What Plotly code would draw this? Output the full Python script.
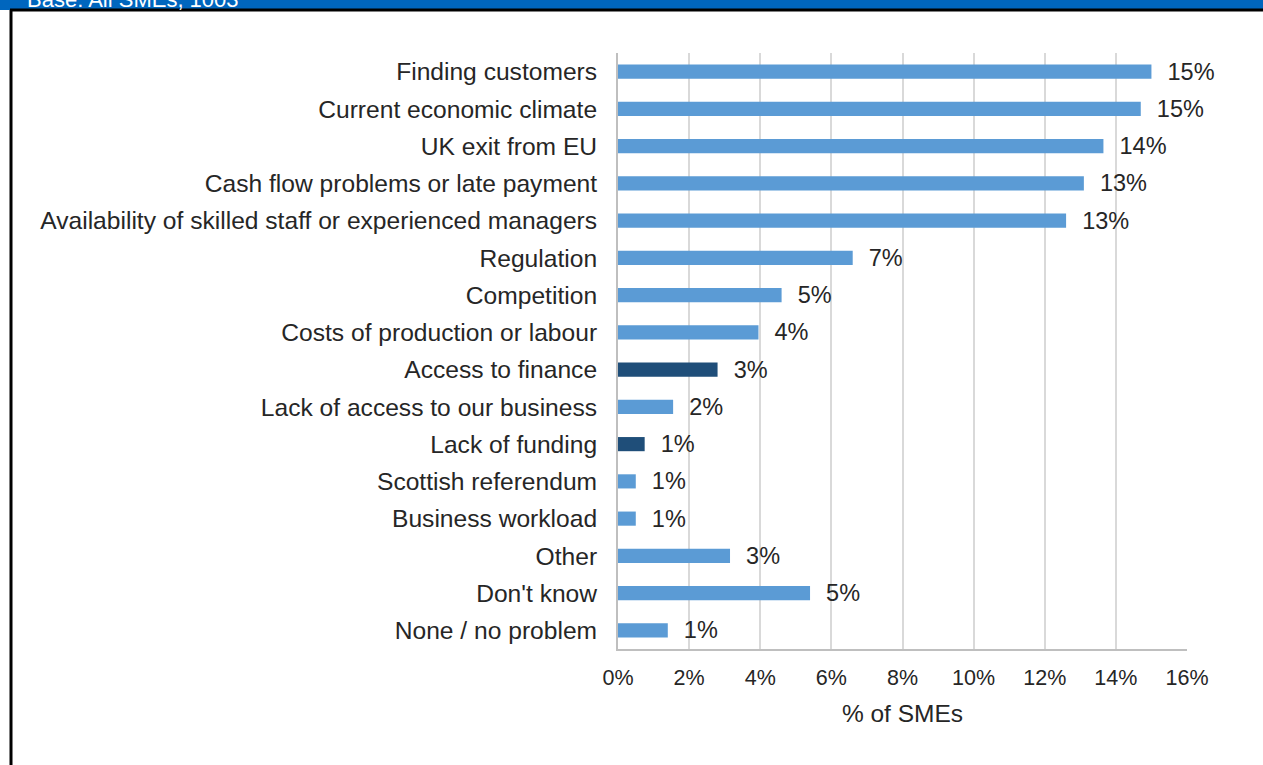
import plotly.graph_objects as go

categories = ["Finding customers", "Current economic climate", "UK exit from EU",
              "Cash flow problems or late payment",
              "Availability of skilled staff or experienced managers",
              "Regulation", "Competition", "Costs of production or labour",
              "Access to finance", "Lack of access to our business", "Lack of funding",
              "Scottish referendum", "Business workload", "Other", "Don't know",
              "None / no problem"]
values = [15.0, 14.7, 13.65, 13.1, 12.6, 6.6, 4.6, 3.95, 2.8, 1.55, 0.75, 0.5, 0.5, 3.15, 5.4, 1.4]
labels = ["15%", "15%", "14%", "13%", "13%", "7%", "5%", "4%", "3%", "2%", "1%", "1%", "1%", "3%", "5%", "1%"]
highlight = ["Access to finance", "Lack of funding"]
x_ticks = [0, 2, 4, 6, 8, 10, 12, 14, 16]
x_tick_labels = ["0%", "2%", "4%", "6%", "8%", "10%", "12%", "14%", "16%"]

colors = ["#1F4E79" if c in highlight else "#5B9BD5" for c in categories]

W, H = 1263, 765
L, R, T, B = 618, 1187, 53, 649
FONT = "Liberation Sans, Arial, sans-serif"

fig = go.Figure(go.Bar(
    y=categories, x=values, orientation="h",
    marker=dict(color=colors, line=dict(width=0)),
    width=0.38,
    text=["  " + t for t in labels], textposition="outside",
    constraintext="none",
    textfont=dict(size=23.5, color="#262626", family=FONT),
    cliponaxis=False,
))

def px2x(p):
    return (p - L) / (R - L)

def py2y(p):
    return 1 - (p - T) / (B - T)

fig.update_layout(
    width=W, height=H,
    margin=dict(l=L, r=W - R, t=T, b=H - B, pad=0),
    plot_bgcolor="white", paper_bgcolor="white",
    font=dict(family=FONT, size=23, color="#262626"),
    showlegend=False,
    xaxis=dict(range=[0, 16], tickvals=x_ticks, ticktext=x_tick_labels,
               showgrid=True, gridcolor="#D9D9D9", gridwidth=2,
               showline=True, linecolor="#BFBFBF", linewidth=2,
               zeroline=False, ticks="", ticklabelstandoff=8,
               tickfont=dict(size=21.5),
               title=dict(text="% of SMEs", font=dict(size=24.5), standoff=16)),
    yaxis=dict(categoryorder="array", categoryarray=categories[::-1],
               showline=True, linecolor="#BFBFBF", linewidth=2,
               showgrid=False, ticks="", ticklabelstandoff=14,
               tickfont=dict(size=24.6)),
    shapes=[
        dict(type="rect", xref="paper", yref="paper", x0=px2x(-5), x1=px2x(W + 5),
             y0=py2y(10), y1=py2y(-5), fillcolor="#0066BE", line=dict(width=0), layer="above"),
        dict(type="line", xref="paper", yref="paper", x0=px2x(10), x1=px2x(W + 5),
             y0=py2y(10), y1=py2y(10), line=dict(color="black", width=3), layer="above"),
        dict(type="line", xref="paper", yref="paper", x0=px2x(11), x1=px2x(11),
             y0=py2y(10), y1=py2y(H + 5), line=dict(color="black", width=3), layer="above"),
    ],
    annotations=[
        dict(text="Base: All SMEs, 1003", xref="paper", yref="paper",
             x=px2x(25), y=py2y(14), xanchor="left", yanchor="bottom",
             showarrow=False, font=dict(color="white", size=22)),
    ],
)

fig.write_html("out.html", config={"displayModeBar": False},
               post_script="document.body.style.margin='0';document.body.style.overflow='hidden';")
